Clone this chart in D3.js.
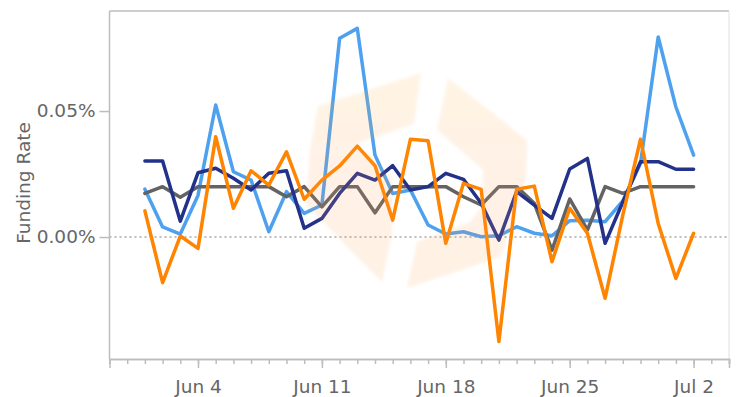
<!DOCTYPE html>
<html>
<head>
<meta charset="utf-8">
<script src="https://cdn.jsdelivr.net/npm/d3@7"></script>
<style>
  html, body { margin: 0; padding: 0; background: #fff; }
  svg { display: block; }
  svg text { font-family: "DejaVu Sans", Verdana, sans-serif; }
</style>
</head>
<body>
<svg id="chart" width="738" height="397"></svg>
<script>
// Daily funding rate (%), one value per day
const days = [
  "2023-06-01","2023-06-02","2023-06-03","2023-06-04","2023-06-05","2023-06-06","2023-06-07","2023-06-08",
  "2023-06-09","2023-06-10","2023-06-11","2023-06-12","2023-06-13","2023-06-14","2023-06-15","2023-06-16",
  "2023-06-17","2023-06-18","2023-06-19","2023-06-20","2023-06-21","2023-06-22","2023-06-23","2023-06-24",
  "2023-06-25","2023-06-26","2023-06-27","2023-06-28","2023-06-29","2023-06-30","2023-07-01","2023-07-02"
];

const rateBlue = [
  0.0190, 0.0040, 0.0012, 0.0165, 0.0524, 0.0259, 0.0226, 0.0021,
  0.0180, 0.0094, 0.0127, 0.0789, 0.0828, 0.0325, 0.0173, 0.0187,
  0.0048, 0.0012, 0.0021, 0.0001, 0.0005, 0.0041, 0.0015, 0.0005,
  0.0065, 0.0067, 0.0061, 0.0143, 0.0292, 0.0794, 0.0516, 0.0325
];

const rateGray = [
  0.0173, 0.0200, 0.0158, 0.0200, 0.0200, 0.0200, 0.0200, 0.0200,
  0.0160, 0.0200, 0.0120, 0.0200, 0.0200, 0.0096, 0.0200, 0.0200,
  0.0200, 0.0200, 0.0160, 0.0127, 0.0200, 0.0200, 0.0134, -0.0052,
  0.0151, 0.0028, 0.0200, 0.0173, 0.0200, 0.0200, 0.0200, 0.0200
];

const rateNavy = [
  0.0302, 0.0302, 0.0063, 0.0255, 0.0273, 0.0233, 0.0187, 0.0253,
  0.0263, 0.0035, 0.0074, 0.0173, 0.0253, 0.0226, 0.0283, 0.0187,
  0.0200, 0.0253, 0.0229, 0.0134, -0.0012, 0.0180, 0.0127, 0.0074,
  0.0270, 0.0312, -0.0025, 0.0139, 0.0299, 0.0299, 0.0269, 0.0269
];

const rateOrange = [
  0.0104, -0.0181, 0.0004, -0.0045, 0.0398, 0.0114, 0.0263, 0.0206,
  0.0338, 0.0150, 0.0226, 0.0282, 0.0361, 0.0283, 0.0067, 0.0388,
  0.0382, -0.0025, 0.0213, 0.0189, -0.0415, 0.0190, 0.0202, -0.0098,
  0.0114, 0.0015, -0.0243, 0.0087, 0.0388, 0.0054, -0.0164, 0.0015
];

const yTickValues = [0, 0.05];
const yTitle = "Funding Rate";

const seriesList = [
  { values: rateBlue,   color: "#4ea1ee" },
  { values: rateGray,   color: "#636363" },
  { values: rateNavy,   color: "#22318a" },
  { values: rateOrange, color: "#ff8400" }
];

(function draw() {
  const svg = d3.select("#chart");
  const plotLeft = 109.5, plotRight = 729, plotTop = 11, plotBottom = 359;
  const fontFamily = "'DejaVu Sans', Verdana, sans-serif";
  const fontSize = "18.5px";

  const parse = d3.utcParse("%Y-%m-%d");
  const dates = days.map(parse);

  const x = d3.scaleUtc()
    .domain([parse("2023-05-30"), parse("2023-07-04")])
    .range([plotLeft, plotRight]);

  const y = d3.scaleLinear()
    .domain([-0.0484, 0.0897])
    .range([plotBottom, plotTop]);

  // plot frame: top and right borders
  svg.append("line")
    .attr("x1", plotLeft).attr("x2", plotRight).attr("y1", plotTop).attr("y2", plotTop)
    .attr("stroke", "#bdbdbd").attr("stroke-width", 1.5);
  svg.append("line")
    .attr("x1", plotRight).attr("x2", plotRight).attr("y1", plotTop).attr("y2", plotBottom)
    .attr("stroke", "#e0e0e0").attr("stroke-width", 1);

  // zero reference line
  svg.append("line")
    .attr("x1", plotLeft).attr("x2", plotRight)
    .attr("y1", y(0)).attr("y2", y(0))
    .attr("stroke", "#a8a8a8").attr("stroke-width", 1.5)
    .attr("stroke-dasharray", "2,3");

  // x axis: daily minor ticks, weekly labelled ticks
  const xMinor = svg.append("g")
    .attr("transform", `translate(0,${plotBottom})`)
    .call(d3.axisBottom(x).ticks(d3.utcDay.every(1)).tickSize(5).tickFormat(""));
  const xMajor = svg.append("g")
    .attr("transform", `translate(0,${plotBottom})`)
    .call(d3.axisBottom(x).ticks(d3.utcSunday.every(1)).tickSize(9).tickPadding(12)
      .tickFormat(d3.utcFormat("%b %-d")));
  [xMinor, xMajor].forEach(g => {
    g.attr("font-family", fontFamily).attr("font-size", fontSize);
    g.select(".domain").attr("stroke", "#bdbdbd").attr("stroke-width", 1.5);
    g.selectAll(".tick line").attr("stroke", "#bdbdbd").attr("stroke-width", 1.5);
  });
  xMajor.selectAll(".tick text")
    .attr("fill", "#666")
    .style("font-family", fontFamily).style("font-size", fontSize);

  // y axis
  const yAxis = svg.append("g")
    .attr("transform", `translate(${plotLeft},0)`)
    .call(d3.axisLeft(y).tickValues(yTickValues).tickSize(10).tickPadding(4)
      .tickFormat(d => d.toFixed(2) + "%"));
  yAxis.attr("font-family", fontFamily).attr("font-size", fontSize);
  yAxis.select(".domain").attr("stroke", "#bdbdbd").attr("stroke-width", 1.5)
    .attr("d", `M0,${plotBottom}V${plotTop}`);
  yAxis.selectAll(".tick line").attr("stroke", "#bdbdbd").attr("stroke-width", 1.5);
  yAxis.selectAll(".tick text")
    .attr("fill", "#666")
    .style("font-family", fontFamily).style("font-size", fontSize);

  svg.append("text")
    .attr("transform", "translate(30,183) rotate(-90)")
    .attr("text-anchor", "middle")
    .attr("fill", "#666")
    .style("font-family", fontFamily)
    .style("font-size", fontSize)
    .text(yTitle);

  // series lines
  const line = d3.line()
    .x((d, i) => x(dates[i]))
    .y(d => y(d));

  svg.append("g").selectAll("path")
    .data(seriesList)
    .join("path")
    .attr("d", s => line(s.values))
    .attr("fill", "none")
    .attr("stroke", s => s.color)
    .attr("stroke-width", 3.5)
    .attr("stroke-linejoin", "round")
    .attr("stroke-linecap", "round");

  // faint brand mark over the plot
  const defs = svg.append("defs");
  const grad = defs.append("linearGradient").attr("id", "markGrad")
    .attr("x1", "0").attr("y1", "0").attr("x2", "0").attr("y2", "1");
  grad.append("stop").attr("offset", "0%").attr("stop-color", "#ffb545");
  grad.append("stop").attr("offset", "55%").attr("stop-color", "#ff9f5a");
  grad.append("stop").attr("offset", "100%").attr("stop-color", "#ffa040");
  const blur = defs.append("filter").attr("id", "markBlur");
  blur.append("feGaussianBlur").attr("stdDeviation", 1.5);

  const mark = svg.append("g")
    .attr("opacity", 0.14)
    .attr("filter", "url(#markBlur)")
    .attr("fill", "url(#markGrad)");
  mark.append("path")
    .attr("d", "M318,106 L421,73 L414,124 L356,144 L392,178 L392,233 L382,282 L306,205 L310,150 Z");
  mark.append("path")
    .attr("d", "M448,78 L527,140 L526,178 L500,257 L407,288 L417,242 L470,222 L483,205 L483,170 L437,130 Z");
})();
</script>
</body>
</html>
